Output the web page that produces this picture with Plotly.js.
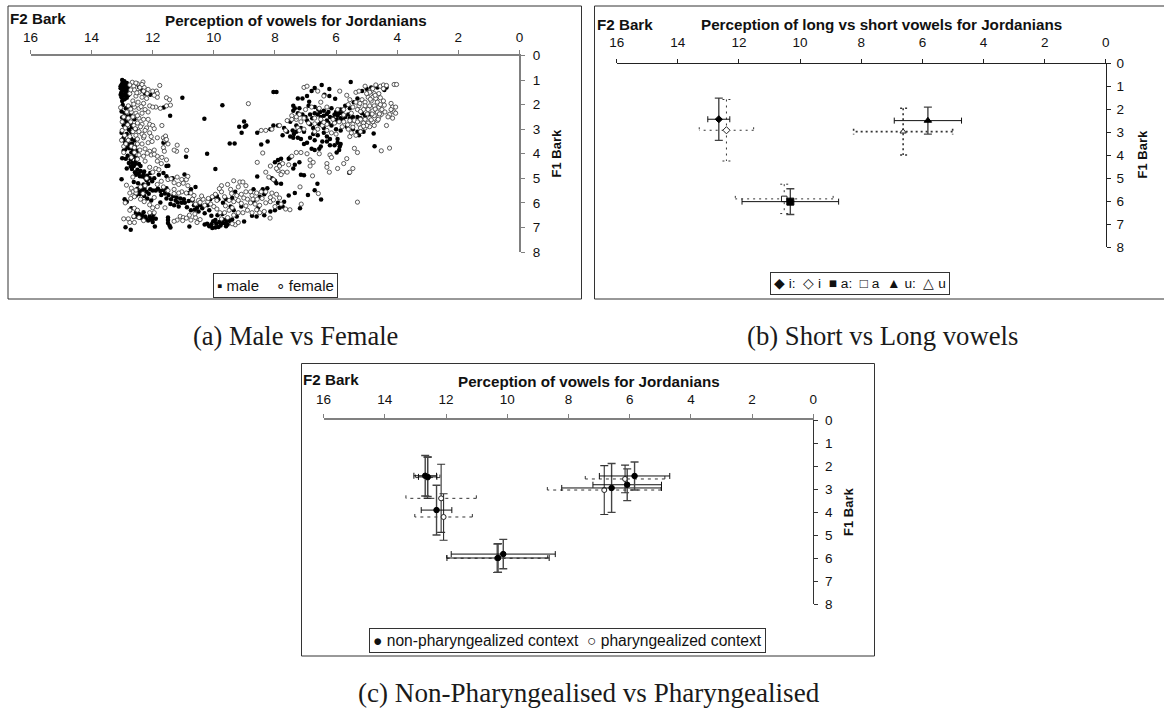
<!DOCTYPE html>
<html><head><meta charset="utf-8">
<script src="https://cdn.plot.ly/plotly-3.0.1.min.js"></script>
<style>html,body{margin:0;padding:0;background:#fff}#g{width:1164px;height:711px}</style></head>
<body><div id="g"></div>
<script>
// ---------- DATA: [F2 Bark, F1 Bark] ----------
const malePoints = [
[5.52,1.08],[6.47,1.2],[6.7,1.32],[6.8,1.45],[6.22,1.36],[6.38,1.6],[6.22,1.65],[6.03,1.76],[8.05,1.49],[7.95,1.49],[11.03,1.72],[9.72,2.03],[10.31,2.57],[9.01,2.69],[9.17,2.9],[8.99,2.9],[9.09,3.15],[8.94,2.85],[11.43,2.45],[9.48,3.58],[9.32,3.58],[10.22,4.0],[10.91,4.12],[8.58,3.15],[8.45,3.62],[8.24,3.5],[9.95,4.62],[10.96,4.84],[13.02,5.04],[8.58,4.93],[4.77,3.18],[4.74,3.69],[5.57,4.77],[6.61,5.22],[6.7,5.49],[6.49,5.86],[6.92,5.68],[7.18,6.22],[12.72,7.09],[12.89,6.99],
[13.0,1.0],[12.97,1.08],[12.92,1.12],[13.02,1.2],[12.88,1.22],[12.98,1.28],[13.05,1.33],[12.9,1.36],[12.82,1.3],[12.98,1.44],[13.03,1.52],[12.87,1.48],[12.95,1.62],[13.02,1.7],[12.8,1.62],[12.92,1.78],[12.45,1.28],[12.35,1.42],[12.25,1.55],[12.08,1.6],
[12.98,2.02],[12.75,2.1],[12.92,2.35],[12.72,2.42],[13.0,2.52],[12.6,2.6],[12.85,2.72],[12.95,2.84],[12.68,2.92],[12.78,3.02],[12.55,3.0],[13.02,3.14],[12.85,3.2],[12.95,3.35],[12.7,3.4],[12.6,3.46],[12.9,3.55],[12.75,3.62],[12.85,3.72],[12.65,3.82],[12.95,3.88],[12.7,3.95],[12.5,3.88],[12.82,4.08],[13.0,4.18],[12.62,4.12],[12.72,4.22],[12.55,4.3],[12.78,4.38],[12.45,4.42],[12.62,4.5],[12.68,4.62],[12.85,4.6],[12.5,4.65],[12.4,4.7],[12.28,4.72],[11.65,3.55],[11.58,3.5],[11.64,2.12],[11.49,4.49],[11.55,4.5],
[12.55,4.85],[12.42,4.92],[12.3,4.82],[12.18,4.9],[12.1,5.0],[12.2,5.08],[11.95,5.0],[11.8,4.85],[11.65,4.78],[11.55,4.92],[11.35,5.0],[12.62,5.15],[12.48,5.2],[12.3,5.25],[12.15,5.22],[12.5,5.42],[12.35,5.48],[12.2,5.55],[12.0,5.5],[11.9,5.5],[11.75,5.52],[11.65,5.48],[11.55,5.4],[12.55,5.7],[12.42,5.65],[12.28,5.72],[12.18,5.82],[12.92,5.85],[12.85,5.95],[12.05,5.9],[11.75,5.98],[11.55,5.82],[11.4,5.85],[11.25,5.9],[11.18,5.98],[11.05,6.0],[11.42,6.05],[11.3,6.1],[11.15,6.15],[10.95,6.0],[10.75,5.45],[10.6,5.35],[10.82,5.6],[10.7,5.9],[10.65,6.1],[10.55,6.2],[10.75,6.3],[10.5,6.35],[10.38,6.22],[10.2,6.1],[10.12,5.85],[10.0,5.75],[9.9,5.72],[9.85,5.85],[9.7,6.0],[9.6,5.85],[9.4,5.8],[9.3,5.55],[9.45,6.15],[9.35,6.3],[9.25,6.55],[9.1,6.15],
[12.7,6.22],[12.55,6.4],[12.45,6.45],[12.35,6.5],[12.25,6.55],[12.1,6.55],[12.0,6.62],[11.9,6.65],[12.15,6.72],[12.0,6.78],[11.93,6.96],[11.5,6.7],[11.5,6.82],[11.45,6.92],[11.42,7.0],[11.5,6.6],[10.8,6.96],[10.3,6.88],[10.15,6.95],[10.05,7.02],[9.95,7.0],[9.85,6.98],[10.02,6.75],[9.95,6.7],[9.82,6.78],[9.7,6.82],[9.6,6.7],[9.55,6.88],[9.45,6.75],[9.4,6.68],[9.6,6.85],[9.01,6.76],
[8.7,5.45],[8.4,5.45],[8.25,5.4],[8.35,5.65],[8.5,5.75],[8.7,5.95],[8.55,6.2],[8.35,6.5],[8.15,6.35],[8.0,6.3],[7.85,6.2],[7.75,6.15],[7.9,6.0],[7.7,5.95],[7.55,5.7],[7.35,5.6],[8.1,5.0],[8.0,5.1],[7.95,5.2],[7.8,5.22],[8.75,6.52],[8.6,6.55],[7.85,4.45],[8.0,4.35],[7.9,4.25],[7.8,4.2],[7.55,4.2],[7.2,4.35],[7.35,4.45],[7.4,4.6],[7.5,4.15],[7.15,4.85],[7.05,4.88],
[7.4,2.05],[7.35,2.15],[7.4,2.25],[7.25,1.75],[7.1,1.75],[6.95,1.65],[6.88,1.88],[6.9,2.05],[6.7,2.1],[6.58,2.2],[6.4,2.25],[6.25,2.3],[6.15,2.15],[6.0,2.3],[5.85,2.2],[5.8,2.35],[5.7,2.05],[5.55,2.15],[5.42,1.9],[5.3,1.75],[5.15,1.45],[5.0,1.35],[4.85,1.3],[4.65,1.3],[4.42,1.4],[4.35,1.3],
[7.25,2.35],[7.1,2.4],[7.0,2.5],[6.85,2.4],[6.7,2.35],[6.6,2.4],[6.5,2.5],[6.4,2.45],[6.2,2.5],[6.1,2.55],[5.95,2.45],[5.85,2.55],[5.7,2.5],[5.6,2.4],[5.45,2.5],[5.3,2.5],[5.15,2.35],[5.05,2.45],[4.9,2.4],
[7.5,2.7],[7.3,2.85],[7.15,2.95],[6.95,2.65],[6.85,2.8],[6.75,2.95],[6.55,2.8],[6.4,2.95],[6.3,2.65],[6.15,2.85],[6.0,3.0],[5.85,3.05],[5.65,2.9],[5.45,3.0],[5.3,3.1],[5.25,3.25],[5.1,3.1],
[7.75,3.25],[7.6,3.1],[7.5,3.3],[7.38,3.2],[7.25,3.35],[7.15,3.4],[7.05,3.6],[6.95,3.55],[6.85,3.35],[6.7,3.45],[6.6,3.25],[6.45,3.5],[6.3,3.5],[6.4,3.15],[6.2,3.4],[6.8,3.8],[6.7,3.85],[6.55,3.8],[6.5,3.7],[5.95,3.55],[5.85,3.6],[5.88,3.7],[5.9,3.85],[6.2,3.65],[7.9,2.85],[8.05,2.85],[8.15,3.0],[7.7,2.95],[7.4,3.35],
[12.93,1.05],[13.0,1.15],[12.85,1.12],[13.05,1.25],[12.92,1.28],[12.78,1.38],[13.0,1.4],[12.9,1.55],[13.05,1.6],[12.85,1.72],[13.0,1.85],[12.88,2.15],[13.02,2.28],[12.82,2.48],[12.93,2.63],[12.72,2.78],[12.88,2.9],[12.7,3.12],[12.97,3.42],[12.83,3.48],[12.68,3.58],[12.77,3.78],[12.9,3.83],[12.58,3.72],[12.62,4.0],[12.88,4.2],[12.52,4.18],[12.67,4.38],[12.58,4.42],[12.4,4.5],[12.72,4.52],[12.58,4.75],[12.46,4.8],[12.34,4.93],[12.25,4.98],[12.08,4.78],[12.02,5.12],[12.38,5.33],[12.27,5.42],[12.42,5.55],[12.13,5.63],[12.33,5.58],[12.08,5.45],[11.83,5.42],[11.72,5.68],[11.6,5.62],[11.48,5.68],[11.33,5.72],[11.22,5.78],[11.1,5.82],[10.98,5.85],[10.88,6.18],[10.82,5.92],[10.62,6.28],[10.45,6.1],[10.3,6.42],[10.15,6.3],[10.08,6.52],[9.88,6.5],[9.72,6.45],[12.52,6.55],[12.38,6.62],[12.22,6.65],[12.08,6.68],[11.98,6.48],[12.3,6.38],[12.62,6.58],[10.22,6.85],[10.08,6.87],[9.92,6.85],[9.78,6.92],[9.7,6.68],[9.52,6.72],[9.6,6.95],[6.05,2.4],[6.3,2.38],[5.9,2.35],[6.52,2.3],[6.78,2.55],[6.48,2.68],[6.25,2.75],[5.98,2.62],[5.78,2.62],[5.55,2.55],[5.2,2.55],[7.2,2.15],[7.05,3.1],[6.75,3.2],[7.42,3.05],[7.3,3.1],[6.3,3.3],[6.05,3.65],[5.98,3.95],[5.95,3.4]
];
const femalePoints = [
[11.77,1.22],[12.32,1.08],[12.67,1.09],[8.87,1.96],[4.1,1.18],[4.02,1.18],[5.3,5.97],[4.25,3.77],[4.52,3.88],[8.4,3.97],[8.58,4.35],[11.7,2.85],[10.89,3.86],[8.16,6.62],[7.51,6.28],[7.14,6.05],[7.18,5.35],[6.58,5.62],[6.77,4.9],[9.3,6.89],[12.86,5.28],
[12.75,1.2],[12.62,1.25],[12.5,1.15],[12.42,1.3],[12.28,1.3],[12.6,1.4],[12.45,1.5],[12.3,1.45],[12.15,1.38],[12.0,1.45],[11.88,1.45],[11.85,1.55],[11.85,1.7],[11.55,1.72],[11.45,1.8],[11.55,2.05],[11.42,2.02],[11.75,2.15],[11.9,2.1],[12.1,2.05],[12.0,2.1],
[12.75,1.55],[12.55,1.65],[12.35,1.7],[12.2,1.75],[12.65,1.85],[12.48,1.9],[12.3,1.95],[13.05,2.12],[12.8,2.05],[12.6,2.1],[12.45,2.15],[12.25,2.2],[12.85,2.3],[12.7,2.3],[12.55,2.35],[12.35,2.35],[12.15,2.3],[12.95,2.5],[12.8,2.55],[12.65,2.5],[12.45,2.55],[12.3,2.6],[12.15,2.6],[13.0,2.7],[12.72,2.7],[12.5,2.75],[12.35,2.8],[12.1,2.8],[12.0,2.85],[11.95,2.98],[12.2,2.95],[12.4,2.9],[12.62,2.85],[12.9,2.95],[13.0,3.05],[12.65,3.1],[12.45,3.1],[12.25,3.05],[12.1,3.15],[12.35,3.2],[12.55,3.25],[12.75,3.3],[12.92,3.25],[13.02,3.45],[12.8,3.45],[12.5,3.4],[12.3,3.35],[12.05,3.3],[11.85,3.35],[11.65,3.35],[11.58,3.28],[11.6,3.45],[11.5,3.6],[11.65,3.75],[11.62,3.9],[11.55,3.42],[11.2,3.65],[11.22,3.9],[11.3,3.85],
[12.95,3.7],[12.7,3.7],[12.5,3.6],[12.35,3.6],[12.15,3.55],[12.95,3.95],[12.6,3.95],[12.42,3.85],[12.25,3.8],[12.1,3.9],[11.95,3.85],[12.7,4.15],[12.45,4.05],[12.3,4.1],[12.05,4.05],[11.85,4.1],[11.7,4.15],[11.55,4.25],[11.85,4.3],[12.25,4.3],[11.9,4.6],[11.8,4.65],[12.1,4.55],
[12.65,4.95],[12.2,5.0],[11.5,5.05],[11.2,4.95],[11.05,5.05],[10.9,5.05],[10.85,4.92],[11.3,5.18],[11.15,5.25],[11.0,5.2],[10.85,5.3],[12.7,5.4],[12.65,5.55],[12.55,5.6],[12.4,5.35],[12.25,5.3],[11.85,5.25],[11.65,5.35],[11.5,5.5],[11.3,5.45],[11.05,5.55],[10.9,5.6],[10.75,5.6],[10.65,5.7],[11.15,5.6],[12.75,5.6],[12.6,5.75],[12.4,5.85],[12.28,5.95],[12.9,6.0],[12.1,6.08],[12.0,6.2],[11.85,6.15],[11.6,6.2],
[12.6,6.22],[12.75,6.3],[12.5,6.3],[12.95,6.65],[12.8,6.65],[12.75,6.8],[12.6,6.8],[12.62,6.55],[12.45,6.6],[12.3,6.72],[12.1,6.4],[11.95,6.4],[11.1,6.55],[11.0,6.6],[10.9,6.62],[10.75,6.7],[10.6,6.6],[10.45,6.68],[11.2,6.7],[11.3,6.75],[10.55,6.8],
[10.6,6.05],[10.5,5.9],[10.35,5.85],[10.2,5.95],[10.1,6.05],[10.3,6.1],[10.0,6.15],[10.05,5.75],[9.95,5.65],[9.75,5.55],[9.65,5.75],[9.5,5.9],[9.35,5.95],[9.2,5.9],[9.25,5.7],[9.1,5.65],[8.95,5.55],[8.8,5.55],[8.75,5.7],[8.6,5.6],[8.45,5.55],[8.3,5.55],[8.1,5.6],[7.95,5.65],[7.85,5.8],[8.9,5.85],[8.8,6.0],[8.65,6.05],[8.5,6.1],[8.3,6.0],[8.15,5.95],[8.0,6.15],[7.8,6.05],[7.65,6.25],
[9.8,6.4],[9.65,6.4],[9.5,6.3],[9.35,6.5],[9.2,6.4],[9.9,6.25],[9.05,6.4],[8.9,6.3],[8.75,6.4],[9.75,6.65],[9.55,6.6],[9.4,6.85],[9.2,6.8],[8.5,6.4],[8.35,6.35],[9.75,5.3],[9.55,5.25],[9.35,5.1],[9.15,5.15],[9.05,5.15],[8.95,5.3],[9.45,5.45],[9.2,5.35],
[8.3,4.75],[8.2,4.95],[8.05,5.05],[7.85,4.5],[7.75,4.4],[7.9,4.68],[7.75,4.75],[7.6,4.75],[7.8,4.85],[7.95,4.6],[8.15,4.5],[7.55,4.45],[7.45,4.1],[7.3,3.95],[7.15,3.95],[6.95,4.0],[6.85,4.25],[6.75,4.35],[6.85,4.5],[6.55,4.0],[6.2,4.05],[6.15,4.15],[6.3,4.4],[6.3,4.55],[6.22,4.75],[5.95,4.6],[5.75,4.4],[5.65,4.2],[5.4,3.78],[5.3,3.95],[5.45,4.6],[5.55,4.75],
[7.05,1.3],[6.95,1.25],[5.88,1.45],[6.6,1.45],[6.4,1.65],[5.65,1.62],[5.55,1.8],[5.35,1.5],[5.25,1.45],[5.05,1.25],[4.8,1.35],[4.7,1.2],[4.55,1.25],[4.45,1.2],[4.45,1.35],[4.35,1.22],[4.9,1.5],[4.75,1.55],[4.6,1.55],[4.95,1.7],[4.8,1.7],[4.7,1.75],[4.55,1.72],[4.45,1.85],[5.15,1.8],[5.05,1.9],[4.85,1.85],[4.65,1.9],[5.35,1.9],[4.2,1.95],[4.15,2.1],[4.05,2.1],[4.2,2.2],[4.1,2.3],[4.05,2.35],[4.25,2.4],[4.3,2.5],[4.35,2.85],[4.15,2.55],
[5.6,2.0],[5.45,2.1],[5.25,2.05],[5.05,2.05],[4.9,2.05],[4.75,2.05],[4.6,2.1],[4.5,2.2],[4.4,2.3],[5.3,2.2],[5.1,2.2],[4.95,2.2],[4.8,2.25],[4.65,2.3],[4.52,2.4],[4.6,2.5],[4.75,2.45],[4.9,2.55],[5.05,2.6],[5.2,2.6],[5.4,2.65],[5.55,2.65],[5.75,2.7],[5.9,2.7],[6.05,2.75],[6.3,2.8],[4.65,2.65],[4.8,2.7],[4.95,2.75],[5.1,2.75],[5.25,2.8],[5.45,2.8],[4.75,2.85],[4.9,2.9],[5.05,2.95],[5.2,2.95],[5.6,3.0],[5.8,2.9],[6.0,3.2],[6.15,3.15],[6.3,3.05],[5.55,3.3],[5.35,3.25],[5.5,3.15],[5.2,3.1],
[7.3,2.6],[7.45,2.45],[7.2,2.4],[7.45,2.6],[7.0,2.2],[6.7,2.55],[6.5,2.6],[6.9,2.75],[7.15,2.7],[7.3,2.5],[7.6,2.65],[8.1,3.0],[8.3,3.05],[8.45,3.05],[7.85,2.85],[7.65,3.05],[7.25,2.95],[7.05,3.0],[6.6,3.0],[6.45,2.85],[6.1,2.6],[5.95,2.2],[5.75,2.2],[6.55,2.15],[6.3,2.1],[6.5,1.9],[6.8,2.1],
[12.55,1.12],[12.35,1.18],[12.72,1.4],[12.52,1.52],[12.18,1.55],[11.95,1.62],[12.62,1.98],[12.38,2.08],[12.72,2.18],[12.5,2.45],[12.82,2.82],[12.57,2.98],[12.28,3.28],[12.02,3.5],[12.88,3.6],[12.6,3.75],[12.18,3.98],[11.95,4.02],[12.5,4.22],[11.72,4.4],[12.0,4.75],[11.72,5.12],[11.4,5.02],[12.55,5.48],[12.72,5.82],[12.32,5.62],[11.95,5.78],[11.3,5.62],[10.7,5.85],[10.45,5.98],[10.4,5.72],[10.18,5.82],[9.82,5.42],[9.9,5.9],[9.42,5.62],[9.02,5.8],[8.72,5.85],[8.58,5.85],[8.42,5.82],[8.15,5.78],[8.05,5.88],[9.62,6.12],[9.4,6.2],[9.1,6.02],[8.95,6.12],[8.6,6.28],[11.02,6.72],[10.8,6.5],[10.62,6.45],[5.0,1.55],[4.72,1.62],[4.88,1.78],[5.22,1.95],[4.55,2.0],[4.42,2.02],[4.72,2.18],[5.2,2.28],[4.98,2.38],[4.62,2.6],[4.85,2.62],[5.3,2.7],[5.62,2.82],[5.0,2.85],[5.45,2.92],[5.1,2.88],[4.58,2.38],[4.82,2.38],[6.4,2.72],[6.7,2.78],[5.5,2.35],[5.75,2.42],[7.05,2.55],[7.2,3.05],[6.7,3.1]
];
// Panel b: vowels [F2, F1, F2 sd, F1 sd]
const longVowelNames  = ['i:','a:','u:'];
const longVowelStats  = [[12.66,2.42,0.36,0.92],[10.32,6.01,1.58,0.56],[5.82,2.48,1.10,0.59]];
const shortVowelNames = ['i','a','u'];
const shortVowelStats = [[12.41,2.90,0.89,1.34],[10.52,5.89,1.60,0.64],[6.63,2.96,1.62,1.02]];
// Panel c: contexts [F2, F1, F2 sd, F1 sd]
const nonPharStats = [[12.68,2.42,0.37,0.88],[12.60,2.47,0.30,0.85],[12.31,3.91,0.50,1.08],[10.30,5.99,1.67,0.62],[10.13,5.82,1.70,0.64],[6.59,2.95,1.63,1.06],[6.08,2.81,1.12,0.69],[5.84,2.43,1.15,0.61]];
const pharStats    = [[12.60,2.50,0.40,0.90],[12.16,3.40,1.15,1.48],[12.08,4.21,0.94,1.01],[10.33,6.00,1.65,0.62],[6.83,3.04,1.86,1.06],[6.15,2.56,1.30,0.60]];
const xTicks = [16,14,12,10,8,6,4,2,0];
const yTicks = [0,1,2,3,4,5,6,7,8];

// ---------- LAYOUT HELPERS ----------
const W = 1164, H = 711;
const panels = [
  {s:'',  x0:30.5, x1:519.4, y0:55.5,  y1:252,   xcol:'#808080', ycol:'#808080', xlw:1.6, ylw:1.6, xso:3, yso:5},
  {s:'2', x0:616.7,x1:1105.8,y0:63.7,  y1:247.3, xcol:'#222',    ycol:'#222',    xlw:1.1, ylw:1.1, xso:6, yso:3},
  {s:'3', x0:323.6,x1:813.3, y0:420,   y1:604.3, xcol:'#808080', ycol:'#333',    xlw:1.6, ylw:1,   xso:5, yso:4}
];
const fx = p => p / W, fy = p => 1 - p / H;
const col = (a,i)=>a.map(r=>r[i]);
const font = 'Liberation Sans, Arial, sans-serif';

function axisPair(p){
  const common = {tickmode:'array', tickfont:{family:font,size:13.5,color:'#111'}, ticks:'outside',
    ticklen:4, showgrid:false, zeroline:false, showline:true, fixedrange:true};
  return [{
    ...common, domain:[fx(p.x0),fx(p.x1)], range:[16,0], side:'top', tickvals:xTicks, ticktext:xTicks.map(String),
    anchor:'y'+p.s, linecolor:p.xcol, tickcolor:p.xcol, linewidth:p.xlw, tickwidth:1, ticklabelstandoff:p.xso
  },{
    ...common, domain:[fy(p.y1),fy(p.y0)], range:[8,0], side:'right', tickvals:yTicks, ticktext:yTicks.map(String),
    anchor:'x'+p.s, linecolor:p.ycol, tickcolor:p.ycol, linewidth:p.ylw, tickwidth:1, ticklabelstandoff:p.yso
  }];
}
// dashed whiskers cannot be made by error_x, so they are built as line traces from the same stats
function whiskerX(stats,capY){
  const x=[],y=[];
  stats.forEach(([a,b,ea])=>{
    x.push(a-ea,a+ea,null,a-ea,a-ea,null,a+ea,a+ea,null);
    y.push(b,b,null,b-capY,b+capY,null,b-capY,b+capY,null);
  });
  return {x,y};
}
function whiskerY(stats,capX){
  const x=[],y=[];
  stats.forEach(([a,b,,eb])=>{
    x.push(a,a,null,a-capX,a+capX,null,a-capX,a+capX,null);
    y.push(b-eb,b+eb,null,b-eb,b-eb,null,b+eb,b+eb,null);
  });
  return {x,y};
}
function dashedTrace(w,s,dash,color,width){
  return {type:'scatter',mode:'lines',x:w.x,y:w.y,xaxis:'x'+s,yaxis:'y'+s,showlegend:false,hoverinfo:'skip',
    connectgaps:false,line:{dash:dash,color:color,width:width}};
}
function solidTrace(name,r,s,symbol,size,fill){
  return {type:'scatter',mode:'markers',name:name,x:[r[0]],y:[r[1]],xaxis:'x'+s,yaxis:'y'+s,showlegend:false,
    marker:{symbol:symbol,size:size,color:fill,line:{color:'#000',width:1}},
    error_x:{type:'data',array:[r[2]],color:'#111',thickness:1,width:3},
    error_y:{type:'data',array:[r[3]],color:'#444',thickness:1.4,width:4}};
}

// ---------- TRACES ----------
const traces = [];
traces.push({type:'scatter',mode:'markers',name:'male',x:col(malePoints,0),y:col(malePoints,1),xaxis:'x',yaxis:'y',
  showlegend:false,marker:{symbol:'circle',size:4.5,color:'#000'}});
traces.push({type:'scatter',mode:'markers',name:'female',x:col(femalePoints,0),y:col(femalePoints,1),xaxis:'x',yaxis:'y',
  showlegend:false,marker:{symbol:'circle',size:4.2,color:'#fff',line:{width:0.8,color:'#333'}}});

// panel b
const shortSymbols = ['diamond','square','triangle-up'];
const longSymbols  = ['diamond','square','triangle-up'];
const longSizes    = [5.5,7,6.5];
const dashStyle    = ['2px,4px','2px,4px','2px,3px'];
const dashWidth    = [1,1,1.6];
shortVowelStats.forEach((r,i)=>{
  traces.push(dashedTrace(whiskerX([r],0.13),'2',dashStyle[i],'#333',dashWidth[i]));
  traces.push(dashedTrace(whiskerY([r],0.13),'2',dashStyle[i],'#333',dashWidth[i]));
  traces.push({type:'scatter',mode:'markers',name:shortVowelNames[i],x:[r[0]],y:[r[1]],xaxis:'x2',yaxis:'y2',showlegend:false,
    marker:{symbol:shortSymbols[i],size:5.5,color:'#fff',line:{color:'#222',width:1}}});
});
longVowelStats.forEach((r,i)=>traces.push(solidTrace(longVowelNames[i],r,'2',longSymbols[i],longSizes[i],'#000')));

// panel c
pharStats.forEach(r=>{
  traces.push(dashedTrace(whiskerX([r],0.13),'3','3px,4px','#333',1));
  traces.push({type:'scatter',mode:'markers',name:'pharyngealized context',x:[r[0]],y:[r[1]],xaxis:'x3',yaxis:'y3',showlegend:false,
    marker:{symbol:'circle',size:5,color:'#fff',line:{color:'#222',width:1}},
    error_y:{type:'data',array:[r[3]],color:'#333',thickness:1.1,width:4}});
});
nonPharStats.forEach(r=>traces.push(solidTrace('non-pharyngealized context',r,'3','circle',5.5,'#000')));

// ---------- TEXT, FRAMES ----------
const ann = (text,x,y,o={}) => Object.assign({text,x:fx(x),y:fy(y),xref:'paper',yref:'paper',showarrow:false,borderpad:0,
  xanchor:'center',yanchor:'middle',font:{family:font,size:15.2,color:'#111'}},o);
const bold = t => '<b>'+t+'</b>';
const serif = s => ({family:'Liberation Serif, Times New Roman, serif',size:s,color:'#1a1a1a'});
const legendAnn = (text,x,y,size) => ann(text,x,y,{bordercolor:'#333',borderwidth:1,bgcolor:'#fff',borderpad:3,
  font:{family:font,size:size,color:'#111'}});
const sideTitle = {textangle:-90,font:{family:font,size:13,color:'#111'}};
const annotations = [
  ann(bold('F2 Bark'),9,19,{xanchor:'left'}),
  ann(bold('Perception of vowels for Jordanians'),296,20.5),
  ann(bold('F1 Bark'),555.5,154,sideTitle),
  legendAnn('▪ male    ∘ female',275,285,15),
  ann('(a) Male vs Female',295.5,336,{font:serif(26.5)}),

  ann(bold('F2 Bark'),596,25,{xanchor:'left'}),
  ann(bold('Perception of long vs short vowels for Jordanians'),881.5,24),
  ann(bold('F1 Bark'),1141.5,155,sideTitle),
  legendAnn('◆ i:  ◇ i  ■ a:  □ a  ▲ u:  △ u',860,283,13.7),
  ann('(b) Short vs Long vowels',882,336,{font:serif(26.7)}),

  ann(bold('F2 Bark'),302,380,{xanchor:'left'}),
  ann(bold('Perception of vowels for Jordanians'),589,381),
  ann(bold('F1 Bark'),848,512,sideTitle),
  legendAnn('● non-pharyngealized context  ○ pharyngealized context',567.5,640,15.6),
  ann('(c) Non-Pharyngealised vs Pharyngealised',589,693,{font:serif(27.1)})
];
const frame = (x0,y0,x1,y1) => ({type:'rect',xref:'paper',yref:'paper',x0:fx(x0),x1:fx(x1),y0:fy(y0),y1:fy(y1),
  line:{color:'#333',width:1},fillcolor:'rgba(0,0,0,0)',layer:'below'});
const shapes = [frame(8,6,581.5,299),frame(594.5,6,1180,299),frame(301.5,363.5,874.5,656)];

const [xa1,ya1]=axisPair(panels[0]),[xa2,ya2]=axisPair(panels[1]),[xa3,ya3]=axisPair(panels[2]);
Plotly.newPlot('g',traces,{
  width:W,height:H,margin:{l:0,r:0,t:0,b:0,pad:0},paper_bgcolor:'#fff',plot_bgcolor:'rgba(0,0,0,0)',showlegend:false,
  xaxis:xa1,yaxis:ya1,xaxis2:xa2,yaxis2:ya2,xaxis3:xa3,yaxis3:ya3,annotations,shapes
},{displayModeBar:false,staticPlot:true});
</script></body></html>
